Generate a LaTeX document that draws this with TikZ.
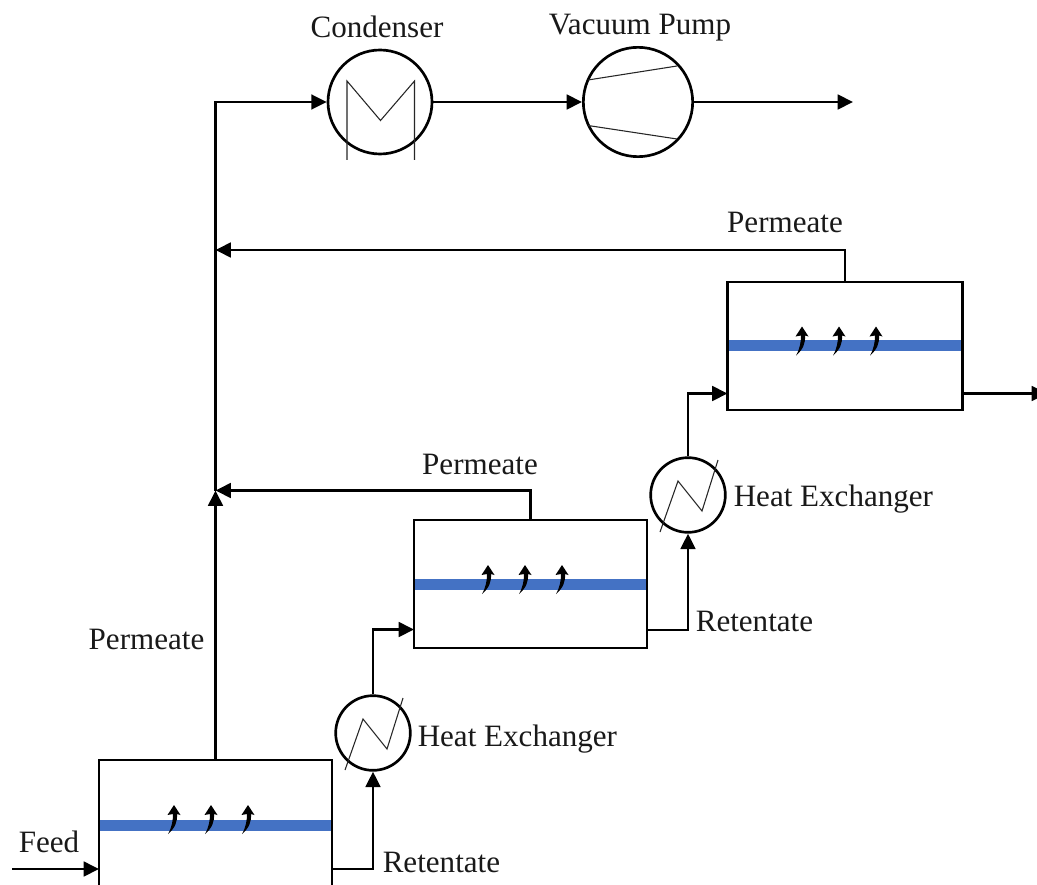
\documentclass[tikz,border=0pt]{standalone}
\usepackage{fontspec}
\setmainfont{Liberation Serif}
\usetikzlibrary{arrows.meta}
\definecolor{bandblue}{HTML}{4472C4}
\tikzset{
  x=0.75pt,y=-0.75pt,
  flow/.style={line width=2pt,-{Triangle[length=11.5pt,width=11pt]},line join=miter},
  unitbox/.style={draw=black,line width=2pt,fill=white,minimum width=174.75pt,minimum height=96pt,inner sep=0pt,outer sep=0pt},
  vessel/.style={draw=black,line width=2pt,fill=white,circle,inner sep=0pt},
  thin line/.style={line width=0.8pt,draw=black!85},
  lbl/.style={font=\fontsize{23.3pt}{27pt}\selectfont,inner sep=0pt,text=black!90},
  band/.style={fill=bandblue,draw=none},
  hxsym/.pic={\draw[thin line,line join=miter] (-28,37) -- (-10,-14) -- (14,16) -- (30,-35);},
  fluxarrow/.pic={
    \fill (-6,29) .. controls (-2,22) and (-1,15) .. (-1,9) -- (-6.5,10) -- (0,0) -- (6.5,10) -- (3,9) .. controls (3.5,17) and (1,23) .. (-6,29) -- cycle;
  }
}
\begin{document}
\begin{tikzpicture}
\useasboundingbox (0,0) rectangle (1037,884);
\clip (0,0) rectangle (1037,884);
% units
\node[unitbox,anchor=north west] (m1) at (99,760) {};
\node[unitbox,anchor=north west] (m2) at (414,520) {};
\node[unitbox,anchor=north west,minimum width=176pt] (m3) at (727.5,282) {};
\node[vessel,minimum size=78pt] (cond) at (380,102) {};
\node[vessel,minimum size=82pt] (pump) at (638,102) {};
\node[vessel,minimum size=56pt] (hx1) at (373,733) {};
\node[vessel,minimum size=56pt] (hx2) at (688,495) {};
% membranes
\fill[band] (100,820) rectangle (331,831);
\fill[band] (415,579) rectangle (646,590);
\fill[band] (728.5,340) rectangle (961,351);
\foreach \x in {174,211,248} \pic at (\x,805) {fluxarrow};
\foreach \x in {488,525,562} \pic at (\x,565) {fluxarrow};
\foreach \x in {802,839,876} \pic at (\x,326.5) {fluxarrow};
% symbols
\draw[thin line,line join=miter] (347,160) -- (347,81) -- (380.5,120.5) -- (414.5,81) -- (414.5,160);
\draw[thin line] (588,80) -- (677,66);
\draw[thin line] (588,125.5) -- (677,139);
\pic at (hx1.center) {hxsym};
\pic at (hx2.center) {hxsym};
% named free ends
\coordinate (feedin) at (12,869);
\coordinate (m1in) at (99,869);
\coordinate (m1out) at (332,869);
\coordinate (m2in) at (414,629.5);
\coordinate (m2out) at (647,630);
\coordinate (m3in) at (727.5,393.5);
\coordinate (m3out) at (962,393.5);
\coordinate (jlow) at (m1.north |- 0,490.5);
\coordinate (jhigh) at (m1.north |- 0,250);
\coordinate (vent) at (853,102);
\coordinate (end) at (1047,393.5);
% connectors
\draw[flow] (feedin) -- (m1in);
\draw[flow] (m1.north) -- (jlow);
\draw[flow] (jlow) |- (cond.west);
\draw[flow] (m2.north) |- (jlow);
\draw[flow] (m3.north) |- (jhigh);
\draw[flow] (cond.east) -- (pump.west);
\draw[flow] (pump.east) -- (vent);
\draw[flow] (m1out) -| (hx1.south);
\draw[flow] (hx1.north) |- (m2in);
\draw[flow] (m2out) -| (hx2.south);
\draw[flow] (hx2.north) |- (m3in);
\draw[flow] (m3out) -- (end);
% labels
\node[lbl] (tcond) at (377,27) {Condenser};
\node[lbl] (tpump) at (640,28) {Vacuum Pump};
\node[lbl] (tp3) at (785,222) {Permeate};
\node[lbl] (tp2) at (480,464) {Permeate};
\node[lbl] (tp1) at (146.5,639.5) {Permeate};
\node[lbl,anchor=west] (th2) at (733.5,499) {Heat Exchanger};
\node[lbl,anchor=west] (th1) at (417.5,739) {Heat Exchanger};
\node[lbl,anchor=west] (tr2) at (695.5,621) {Retentate};
\node[lbl,anchor=west] (tr1) at (382.5,862) {Retentate};
\node[lbl,anchor=west] (tf) at (18.5,842) {Feed};
\end{tikzpicture}
\end{document}
